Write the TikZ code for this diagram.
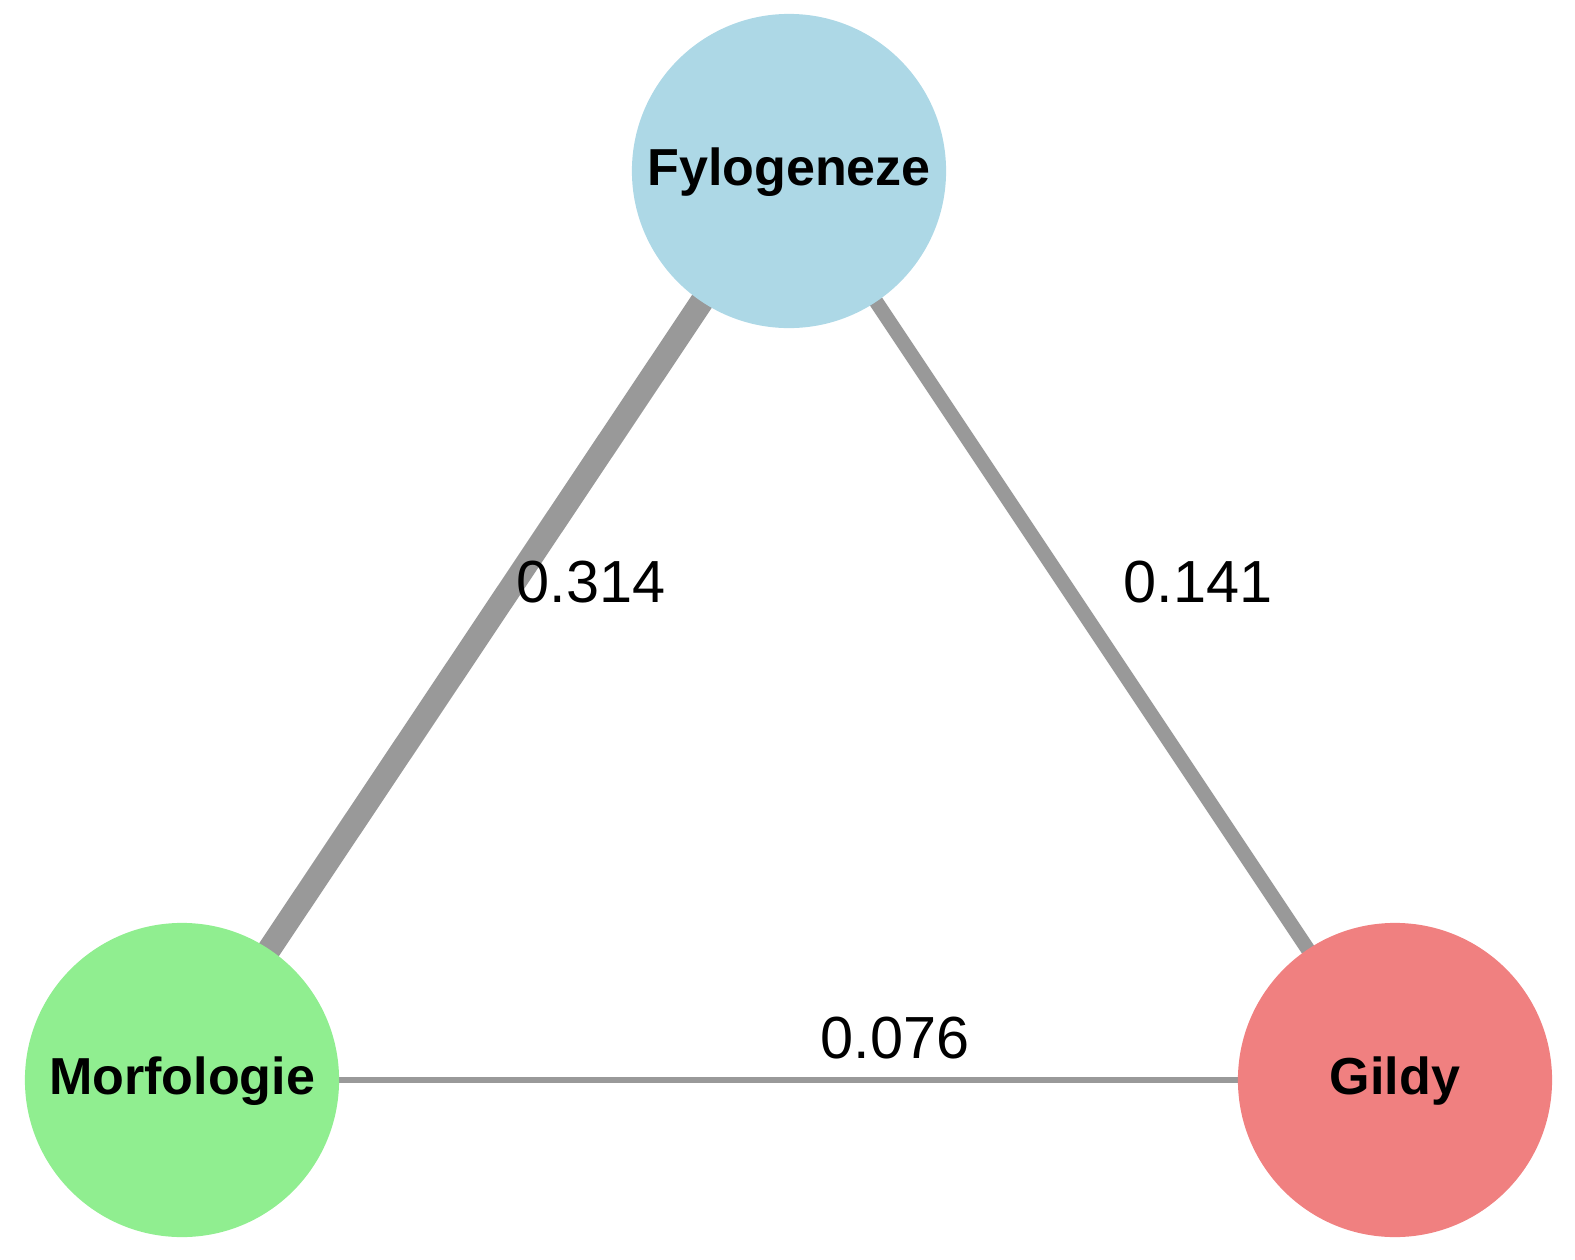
\documentclass[tikz,border=0pt]{standalone}
\usepackage{fontspec}
\setmainfont{Liberation Sans}
\usetikzlibrary{backgrounds}
\definecolor{fyl}{RGB}{173,216,230}
\definecolor{mor}{RGB}{144,238,144}
\definecolor{gil}{RGB}{240,128,128}
\definecolor{edg}{RGB}{153,153,153}
\begin{document}
\begin{tikzpicture}[x=0.01cm,y=-0.01cm,
  vert/.style={circle,minimum size=3.14cm,inner sep=0pt,text height=0.8em,text depth=0pt,
    font=\fontsize{14.8pt}{16pt}\selectfont\bfseries},
  edgelab/.style={font=\fontsize{16.9pt}{19pt}\selectfont,inner sep=0pt},
  conn/.style={draw=edg,line cap=butt}]
\useasboundingbox (0,0) rectangle (1575,1260);
\node[vert,fill=fyl] (f) at (789,171) {Fylogeneze};
\node[vert,fill=mor] (m) at (182,1080) {Morfologie};
\node[vert,fill=gil] (g) at (1395,1080) {Gildy};
\begin{scope}[on background layer]
\draw[conn,line width=0.235cm] (m.center) -- (f.center);
\draw[conn,line width=0.145cm] (f.center) -- (g.center);
\draw[conn,line width=0.057cm] (m.center) -- (g.center);
\end{scope}
\node[edgelab] (l1) at (591,582) {0.314};
\node[edgelab] (l2) at (1198,582) {0.141};
\node[edgelab] (l3) at (895,1038) {0.076};
\end{tikzpicture}
\end{document}
